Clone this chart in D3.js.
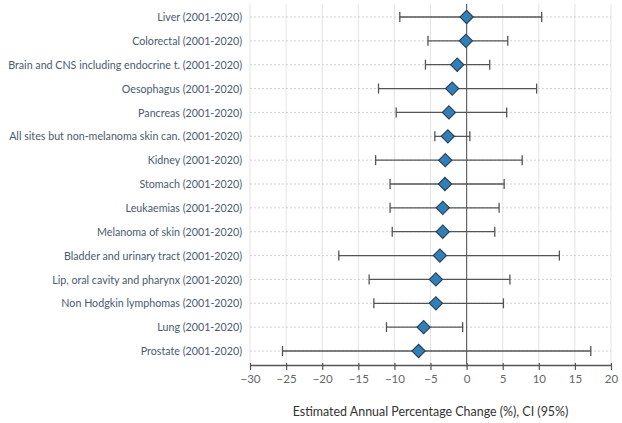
<!DOCTYPE html>
<html>
<head>
<meta charset="utf-8">
<script src="https://cdn.jsdelivr.net/npm/d3@7"></script>
<style>
    body { margin: 0; background: #fff; }
    svg text { font-family: "Source Sans Pro", Lato, "Noto Sans", sans-serif; }
</style>
</head>
<body>
<div id="chart"></div>
<script>
// cancer sites, top to bottom
var sites = [
    "Liver (2001-2020)",
    "Colorectal (2001-2020)",
    "Brain and CNS including endocrine t. (2001-2020)",
    "Oesophagus (2001-2020)",
    "Pancreas (2001-2020)",
    "All sites but non-melanoma skin can. (2001-2020)",
    "Kidney (2001-2020)",
    "Stomach (2001-2020)",
    "Leukaemias (2001-2020)",
    "Melanoma of skin (2001-2020)",
    "Bladder and urinary tract (2001-2020)",
    "Lip, oral cavity and pharynx (2001-2020)",
    "Non Hodgkin lymphomas (2001-2020)",
    "Lung (2001-2020)",
    "Prostate (2001-2020)"
];
// estimated annual percentage change
var apc = [0, -0.1, -1.3, -2.0, -2.45, -2.6, -2.95, -3.0, -3.3, -3.3, -3.7, -4.25, -4.25, -5.95, -6.65];
// 95% CI bounds
var ciLow  = [-9.25, -5.35, -5.7, -12.2, -9.75, -4.4, -12.6, -10.6, -10.6, -10.3, -17.7, -13.5, -12.85, -11.1, -25.5];
var ciHigh = [10.4, 5.7, 3.2, 9.7, 5.55, 0.45, 7.7, 5.2, 4.5, 3.9, 12.85, 6.0, 5.1, -0.55, 17.2];
var xTicks = [-30, -25, -20, -15, -10, -5, 0, 5, 10, 15, 20];

var width = 622, height = 423;
var margin = {top: 4, right: 11, bottom: 58, left: 250};

var svg = d3.select("#chart").append("svg")
    .attr("width", width)
    .attr("height", height);

var x = d3.scaleLinear()
    .domain([-30, 20])
    .range([margin.left, width - margin.right]);

var y = d3.scalePoint()
    .domain(sites)
    .range([17, 351]);

var plotTop = margin.top, plotBottom = height - margin.bottom - 0.5;

// vertical grid
svg.append("g").selectAll("line")
    .data(xTicks)
    .enter().append("line")
    .attr("x1", d => x(d)).attr("x2", d => x(d))
    .attr("y1", plotTop).attr("y2", plotBottom)
    .attr("stroke", "#e3e3e3")
    .attr("stroke-width", 1);

// horizontal dotted row lines
svg.append("g").selectAll("line")
    .data(sites)
    .enter().append("line")
    .attr("x1", x(-30)).attr("x2", x(20))
    .attr("y1", d => y(d)).attr("y2", d => y(d))
    .attr("stroke", "#d0d0d0")
    .attr("stroke-dasharray", "2,2");

// zero line
svg.append("line")
    .attr("x1", x(0)).attr("x2", x(0))
    .attr("y1", plotTop).attr("y2", plotBottom)
    .attr("stroke", "#666")
    .attr("stroke-width", 1.2);

// y labels, squeezed a little so the longest fits like the original
var labelRight = margin.left - 8;
var labels = svg.append("g");
labels.selectAll("text")
    .data(sites)
    .enter().append("text")
    .attr("x", 0)
    .attr("y", d => y(d))
    .attr("dy", "0.35em")
    .attr("text-anchor", "end")
    .attr("font-size", 12)
    .attr("fill", "#4a5a6e")
    .text(d => d);
var longest = d3.max(labels.selectAll("text").nodes(), n => n.getComputedTextLength());
var k = Math.min(1, 234 / longest);
labels.attr("transform", "translate(" + labelRight + ",0) scale(" + k + ",1)");

// error bars
var rows = sites.map((s, i) => ({site: s, v: apc[i], lo: ciLow[i], hi: ciHigh[i]}));
var bars = svg.append("g").selectAll("g")
    .data(rows)
    .enter().append("g");

bars.append("line")
    .attr("x1", d => x(d.lo)).attr("x2", d => x(d.hi))
    .attr("y1", d => y(d.site)).attr("y2", d => y(d.site))
    .attr("stroke", "#555").attr("stroke-width", 1.3);
bars.append("line")
    .attr("x1", d => x(d.lo)).attr("x2", d => x(d.lo))
    .attr("y1", d => y(d.site) - 5).attr("y2", d => y(d.site) + 5)
    .attr("stroke", "#555").attr("stroke-width", 1.3);
bars.append("line")
    .attr("x1", d => x(d.hi)).attr("x2", d => x(d.hi))
    .attr("y1", d => y(d.site) - 5).attr("y2", d => y(d.site) + 5)
    .attr("stroke", "#555").attr("stroke-width", 1.3);

// diamonds
var diamond = d3.symbol().type(d3.symbolSquare).size(88);
bars.append("path")
    .attr("d", diamond)
    .attr("transform", d => "translate(" + x(d.v) + "," + y(d.site) + ") rotate(45)")
    .attr("fill", "#2f7fb9")
    .attr("stroke", "#2b3d52")
    .attr("stroke-width", 1.1);

// x axis
var xAxis = svg.append("g")
    .attr("transform", "translate(0," + (height - margin.bottom) + ")")
    .call(d3.axisBottom(x).tickValues(xTicks).tickSize(5).tickSizeOuter(0));
xAxis.select(".domain").attr("stroke", "#555").attr("stroke-width", 1.3);
xAxis.selectAll(".tick line").attr("stroke", "#555").attr("y1", -2).attr("stroke-width", 1.2);
xAxis.selectAll(".tick text")
    .attr("fill", "#666")
    .attr("font-size", 11.5)
    .attr("font-family", "\"Source Sans Pro\", Lato, \"Noto Sans\", sans-serif")
    .attr("y", 10);

// axis title
var title = svg.append("g")
    .attr("transform", "translate(" + ((x(-30) + x(20)) / 2) + ",416)");
var titleText = title.append("text")
    .attr("text-anchor", "middle")
    .attr("font-size", 13.5)
    .attr("fill", "#333")
    .text("Estimated Annual Percentage Change (%), CI (95%)");
var tk = Math.min(1, 276 / titleText.node().getComputedTextLength());
titleText.attr("transform", "scale(" + tk + ",1)");
</script>
</body>
</html>
